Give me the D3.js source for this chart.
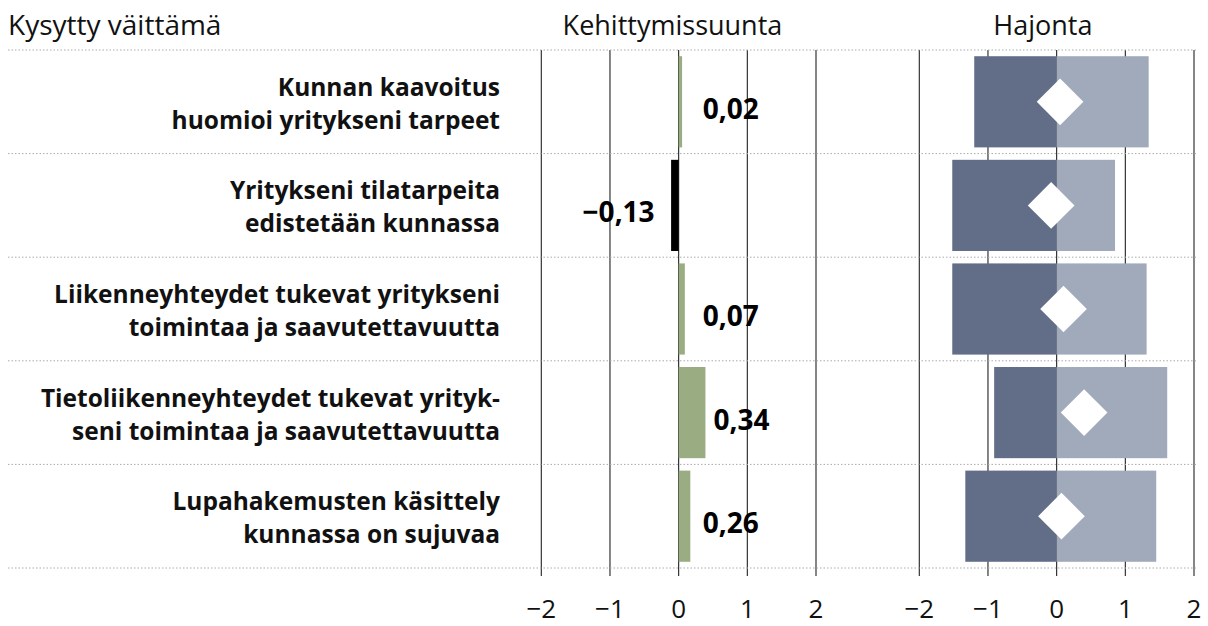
<!DOCTYPE html>
<html>
<head>
<meta charset="utf-8">
<script src="https://cdn.jsdelivr.net/npm/d3@7"></script>
<style>
  body { margin: 0; background: #fff; }
  svg { display: block; font-family: "Open Sans", sans-serif; }
</style>
</head>
<body>
<svg id="chart" width="1208" height="626"></svg>
<script>
    // kysytyt väittämät (rivit)
    const vaittamat = [
        ["Kunnan kaavoitus", "huomioi yritykseni tarpeet"],
        ["Yritykseni tilatarpeita", "edistetään kunnassa"],
        ["Liikenneyhteydet tukevat yritykseni", "toimintaa ja saavutettavuutta"],
        ["Tietoliikenneyhteydet tukevat yrityk-", "seni toimintaa ja saavutettavuutta"],
        ["Lupahakemusten käsittely", "kunnassa on sujuvaa"]
    ];
    // kehittymissuunta: merkitty arvo ja palkin pituus kuvasta
    const kehitysArvo = [0.02, -0.13, 0.07, 0.34, 0.26];
    const kehitysPalkki = [0.05, -0.11, 0.09, 0.39, 0.17];
    // hajonta: ala- ja yläraja sekä keskiarvo (salmiakki)
    const hajontaAla = [-1.2, -1.52, -1.52, -0.91, -1.33];
    const hajontaYla = [1.34, 0.85, 1.31, 1.61, 1.45];
    const hajontaKa = [0.05, -0.08, 0.1, 0.4, 0.07];
    const akseliTicks = [-2, -1, 0, 1, 2];

    const svg = d3.select('#chart');
    const rows = d3.range(vaittamat.length);

    const y = d3.scaleBand()
        .domain(rows)
        .range([50, 568])
        .paddingInner(0.12)
        .paddingOuter(0.06);
    const step = y.step();
    const rowTop = i => 50 + i * step;
    const rowMid = i => rowTop(i) + step / 2;

    const xK = d3.scaleLinear().domain([-2, 2]).range([541.3, 816]);
    const xH = d3.scaleLinear().domain([-2, 2]).range([919.3, 1194]);

    const fmtFi = v => d3.format(".2f")(v).replace(".", ",");

    // otsikot
    svg.append("text").attr("x", 8).attr("y", 35)
        .attr("font-size", 28).attr("fill", "#111")
        .text("Kysytty väittämä");
    svg.append("text").attr("x", xK(-0.09)).attr("y", 35)
        .attr("font-size", 27).attr("fill", "#111")
        .attr("text-anchor", "middle")
        .text("Kehittymissuunta");
    svg.append("text").attr("x", xH(-0.2)).attr("y", 35)
        .attr("font-size", 27).attr("fill", "#111")
        .attr("text-anchor", "middle")
        .text("Hajonta");

    // pystyviivat
    const grid = svg.append("g");
    [xK, xH].forEach(sc => {
        grid.selectAll(null)
            .data(akseliTicks)
            .join("line")
            .attr("x1", d => sc(d)).attr("x2", d => sc(d))
            .attr("y1", 50).attr("y2", 576)
            .attr("stroke", "#222")
            .attr("stroke-width", 1.1);
    });

    // katkoviivat rivien välissä
    svg.append("g")
        .selectAll("line")
        .data(d3.range(vaittamat.length + 1))
        .join("line")
        .attr("x1", 8).attr("x2", 1198)
        .attr("y1", d => rowTop(d)).attr("y2", d => rowTop(d))
        .attr("stroke", "#aaa")
        .attr("stroke-width", 1)
        .attr("stroke-dasharray", "1.5,2");

    // väittämien nimet
    const lab = svg.append("g")
        .selectAll("text")
        .data(rows)
        .join("text")
        .attr("text-anchor", "end")
        .attr("font-size", 24.5)
        .attr("font-weight", 700)
        .attr("fill", "#111");
    lab.append("tspan").attr("x", 500).attr("y", d => rowMid(d) - 6).text(d => vaittamat[d][0]);
    lab.append("tspan").attr("x", 500).attr("y", d => rowMid(d) + 27).text(d => vaittamat[d][1]);

    // kehittymissuunta palkit
    svg.append("g")
        .selectAll("rect")
        .data(rows)
        .join("rect")
        .attr("x", d => xK(Math.min(0, kehitysPalkki[d])))
        .attr("width", d => Math.abs(xK(kehitysPalkki[d]) - xK(0)))
        .attr("y", d => y(d))
        .attr("height", y.bandwidth())
        .attr("fill", d => kehitysPalkki[d] < 0 ? "#000" : "#9aac82");

    svg.append("g")
        .selectAll("text")
        .data(rows)
        .join("text")
        .attr("x", d => kehitysArvo[d] < 0
            ? Math.min(xK(0) - 24, xK(kehitysPalkki[d]) - 8)
            : Math.max(xK(0) + 24, xK(kehitysPalkki[d]) + 8))
        .attr("y", d => rowMid(d) + 17)
        .attr("text-anchor", d => kehitysArvo[d] < 0 ? "end" : "start")
        .attr("font-size", 28)
        .attr("font-weight", 700)
        .attr("fill", "#000")
        .text(d => fmtFi(kehitysArvo[d]));

    // hajonta
    const haj = svg.append("g");
    haj.selectAll(".ala")
        .data(rows)
        .join("rect")
        .attr("class", "ala")
        .attr("x", d => xH(hajontaAla[d]))
        .attr("width", d => xH(0) - xH(hajontaAla[d]))
        .attr("y", d => y(d))
        .attr("height", y.bandwidth())
        .attr("fill", "#626e87");
    haj.selectAll(".yla")
        .data(rows)
        .join("rect")
        .attr("class", "yla")
        .attr("x", xH(0))
        .attr("width", d => xH(hajontaYla[d]) - xH(0))
        .attr("y", d => y(d))
        .attr("height", y.bandwidth())
        .attr("fill", "#a1aabb");
    haj.selectAll("path")
        .data(rows)
        .join("path")
        .attr("d", d3.symbol(d3.symbolSquare, 33 * 33))
        .attr("transform", d => "translate(" + xH(hajontaKa[d]) + "," + (y(d) + y.bandwidth() / 2) + ") rotate(45)")
        .attr("fill", "#fff");

    // akselien numerot
    [xK, xH].forEach(sc => {
        svg.append("g")
            .selectAll("text")
            .data(akseliTicks)
            .join("text")
            .attr("x", d => sc(d))
            .attr("y", 618)
            .attr("text-anchor", "middle")
            .attr("font-size", 26)
            .attr("fill", "#111")
            .text(d => d3.format("d")(d));
    });
</script>
</body>
</html>
